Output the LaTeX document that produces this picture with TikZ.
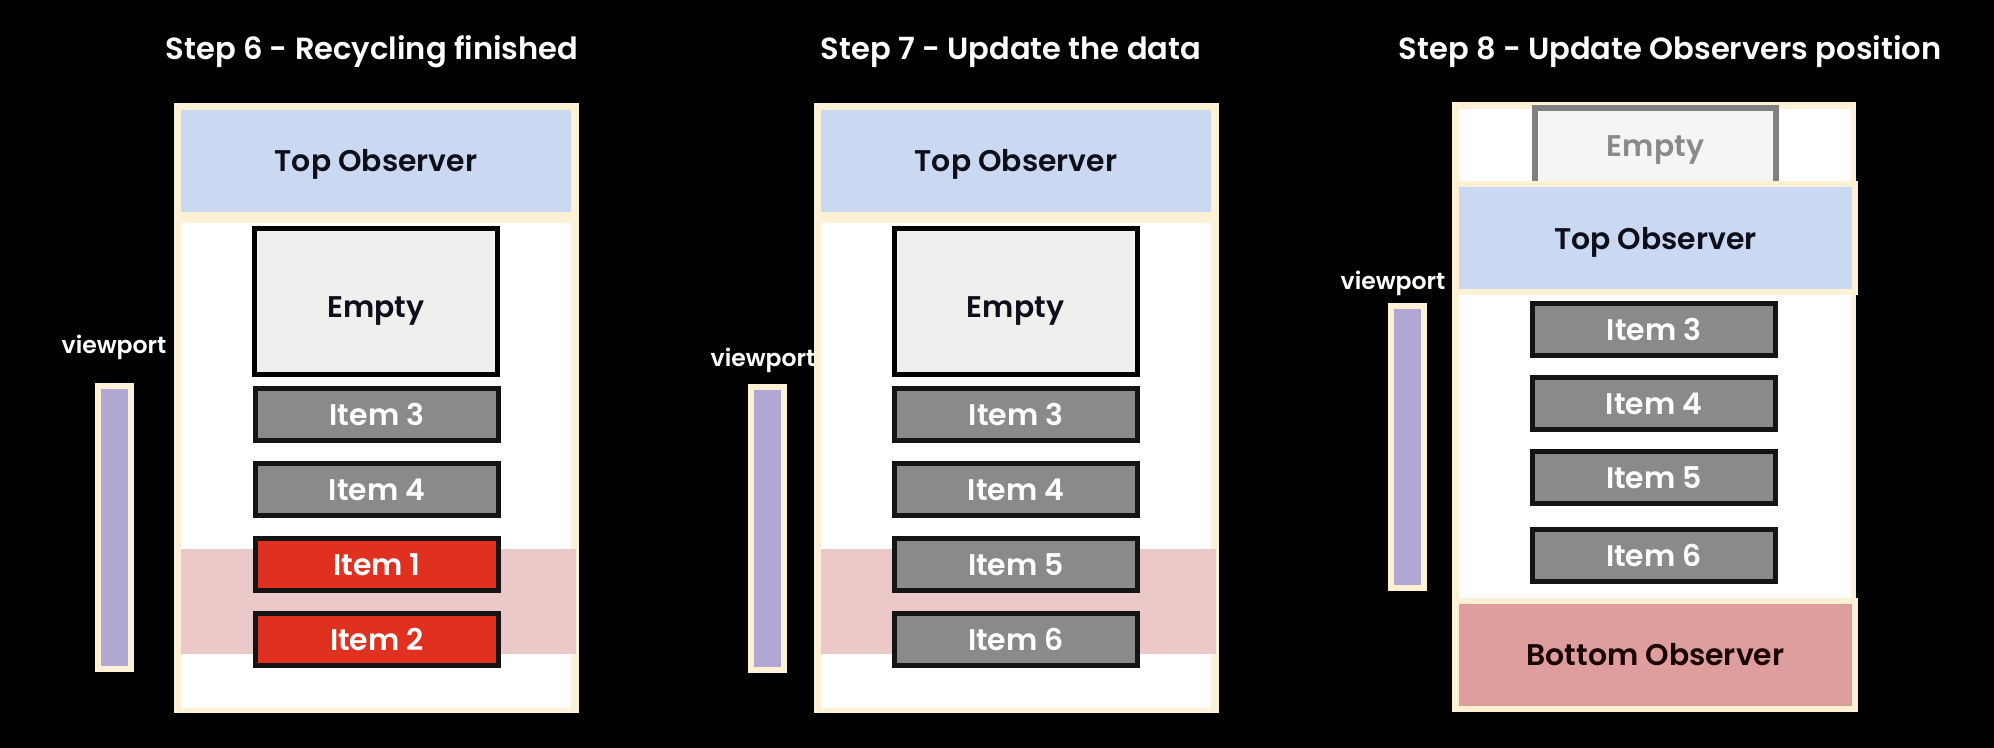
\documentclass[tikz,border=0pt]{standalone}
\usepackage{fontspec}
\setmainfont{Poppins}[BoldFont={Poppins SemiBold}]
\definecolor{rvcream}{HTML}{FCF1D4}
\definecolor{rvblue}{HTML}{CBD8F2}
\definecolor{rvgray}{HTML}{8A8B89}
\definecolor{rvred}{HTML}{E0301F}
\definecolor{rvpink}{HTML}{EBC9C8}
\definecolor{rvlilac}{HTML}{B0A7D2}
\definecolor{rvrose}{HTML}{DE9E9E}
\definecolor{rvempty}{HTML}{EFEFEE}
\definecolor{rvink}{HTML}{0E0E1A}
\tikzset{
  rv title/.style={text=white,inner sep=0pt,font=\bfseries\fontsize{8.7}{11}\selectfont},
  rv label/.style={text=white,inner sep=0pt,font=\bfseries\fontsize{6.7}{8}\selectfont},
  rv text/.style={text height=6pt,text depth=0pt,font=\bfseries\fontsize{8.5}{10}\selectfont},
  rv observer/.style={
    rv text,fill=rvblue,inner sep=0pt,minimum width=39mm,minimum height=10.2mm,
    text=rvink
  },
  rv empty/.style={
    rv text,draw=black,fill=rvempty,line width=0.5mm,inner sep=0pt,
    minimum width=24.3mm,minimum height=14.6mm,text=rvink
  },
  rv item/.style={
    rv text,draw=black!92,line width=0.5mm,inner sep=0pt,
    minimum width=24.3mm,minimum height=5.2mm,text=white
  },
  rv port/.style={
    draw=rvcream,fill=rvlilac,line width=0.6mm,inner sep=0pt,
    minimum width=3.3mm
  }
}

\begin{document}
\begin{tikzpicture}[x=0.1mm,y=-0.1mm]
  \fill[black] (0,0) rectangle (1994,748);

  % step 6
  \node[rv title] (t6) at (372,52) {Step 6 - Recycling finished};
  \fill[rvcream] (174,103) rectangle (579,713);
  \node[rv observer] (top6) at (376,161) {Top Observer};
  \fill[white] (181,223) rectangle (571,708);
  \fill[rvpink] (181,549) rectangle (576,654);
  \node[rv empty] (e6) at (376,301.5) {\raisebox{-0.5mm}{Empty}};
  \foreach \n/\c [count=\k from 0] in {3/rvgray,4/rvgray,1/rvred,2/rvred}
    \node[rv item,fill=\c] (i6-\n) at (377,{415+75*\k}) {Item \n};
  \node[rv label] (l6) at (114,347) {viewport};
  \node[rv port,minimum height=28.3mm] (v6) at (114.5,527.5) {};

  % step 7
  \node[rv title] (t7) at (1011,52) {Step 7 - Update the data};
  \fill[rvcream] (814,103) rectangle (1219,713);
  \node[rv observer] (top7) at (1016,161) {Top Observer};
  \fill[white] (821,223) rectangle (1211,708);
  \fill[rvpink] (821,549) rectangle (1216,654);
  \node[rv empty] (e7) at (1015.5,301.5) {\raisebox{-0.5mm}{Empty}};
  \foreach \n [count=\k from 0] in {3,4,5,6}
    \node[rv item,fill=rvgray] (i7-\n) at (1016,{415+75*\k}) {Item \n};
  \node[rv label] (l7) at (763,360) {viewport};
  \node[rv port,minimum height=28.3mm] (v7) at (767.5,528.5) {};

  % step 8
  \node[rv title] (t8) at (1670,52) {Step 8 - Update Observers position};
  \fill[rvcream] (1452,102) rectangle (1856,712);
  \fill[white] (1459,109) rectangle (1851,705);
  \node[rv empty,draw=black!50,fill=black!4,text=black!46,line width=0.6mm,
    minimum width=24.1mm,minimum height=7.6mm] (e8) at (1655.5,146) {Empty};
  \node[rv observer,draw=rvcream,line width=0.6mm,minimum width=39.9mm,
    minimum height=10.8mm] (top8) at (1655.5,238.5) {Top Observer};
  \foreach \n/\y in {3/329.5,4/404,5/478,6/556}
    \node[rv item,fill=rvgray] (i8-\n) at (1654,\y) {Item \n};
  \node[rv observer,fill=rvrose,draw=rvcream,line width=0.6mm,minimum width=39.9mm,
    minimum height=10.8mm,text=black!90!red] (bot8) at (1655.5,655) {Bottom Observer};
  \node[rv label] (l8) at (1393,283) {viewport};
  \node[rv port,minimum height=28.2mm] (v8) at (1407.5,447) {};
\end{tikzpicture}
\end{document}
